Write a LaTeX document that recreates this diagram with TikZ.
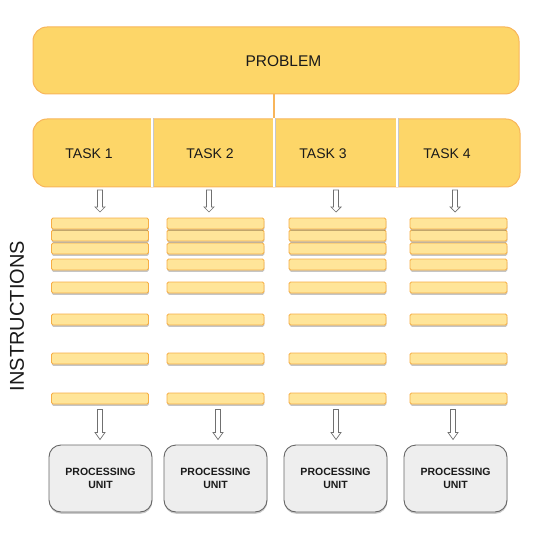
\documentclass[tikz,border=0pt]{standalone}
\usepackage{fontspec}
\setmainfont{Liberation Sans}
\usetikzlibrary{shadows}
\definecolor{ybox}{HTML}{FDD668}
\definecolor{yline}{HTML}{F8B55A}
\definecolor{barfill}{HTML}{FFE599}
\definecolor{barline}{HTML}{F6AE45}
\definecolor{pufill}{HTML}{EEEEEE}
\definecolor{puline}{HTML}{666666}
\definecolor{arrline}{HTML}{707070}
\definecolor{txt}{HTML}{1A1A1A}
\newcommand\blockarrow[3]{%
  \draw[arrowline] (#1) ++(-2.5,0) -- ++(0,#2-#3) -- ++(-2.5,0) -- ++(5,#3)
    -- ++(5,-#3) -- ++(-2.5,0) -- ++(0,-#2+#3) -- cycle;}
\begin{document}
\begin{tikzpicture}[x=1pt,y=-1pt,
  bigbox/.style={draw=yline, line width=1pt, fill=ybox, rounded corners=14pt, inner sep=0pt},
  lbl/.style={text=txt, inner sep=0pt},
  barbox/.style={draw=barline, line width=0.9pt, fill=barfill, rounded corners=1.5pt,
    minimum width=97pt, minimum height=11pt, inner sep=0pt,
    drop shadow={shadow xshift=0.3pt, shadow yshift=-1.8pt, opacity=.32, fill=black!70}},
  pubox/.style={draw=puline, line width=0.9pt, fill=pufill, rounded corners=12pt,
    minimum width=103pt, minimum height=67pt, inner sep=0pt, align=center, text=txt,
    font=\bfseries\fontsize{10.5}{12.5}\selectfont,
    drop shadow={shadow xshift=0.3pt, shadow yshift=-1.8pt, opacity=.3, fill=black!70}},
  arrowline/.style={draw=arrline, fill=white, line width=0.7pt, line join=miter}
]
\useasboundingbox (0,0) rectangle (543,540);

% problem and tasks
\node[bigbox, minimum width=486pt, minimum height=67pt] (problem) at (276,60.5) {};
\node[lbl, font=\fontsize{15.5}{18}\selectfont] (ptext) at (283.4,61) {PROBLEM};
\node[bigbox, minimum width=487pt, minimum height=68pt] (tasks) at (276.5,153) {};

\coordinate (d1) at (152,153);
\coordinate (d2) at (274,153);
\coordinate (d3) at (397,153);
\foreach \d in {d1,d2,d3}{
  \draw[black!22, line width=1pt] ([xshift=1.2pt]tasks.north -| \d) -- ([xshift=1.2pt]tasks.south -| \d);
  \draw[white, line width=1.2pt] (tasks.north -| \d) -- (tasks.south -| \d);
}
\draw[yline, line width=1.2pt] (problem.south -| d2) -- (tasks.north -| d2);

\foreach \i/\x in {1/89,2/210,3/323,4/447}
  \node[lbl, font=\fontsize{14}{17}\selectfont] (t\i) at (\x,153.5) {TASK \i};

% top arrows
\foreach \i/\x in {1/100,2/209,3/336,4/455}{
  \coordinate (ta\i) at (\x,190);
  \blockarrow{ta\i}{22}{5}
}

% instruction bars
\foreach \c/\x in {1/100,2/215.5,3/337.5,4/458.5}{
  \foreach \r/\y in {8/398.5,7/358.5,6/319.5,5/287.5,4/264.5,3/248.5,2/235.5,1/223.5}
    \node[barbox] (b\c-\r) at (\x,\y) {};
}

% bottom arrows
\foreach \i/\x in {1/100,2/218,3/336,4/453}{
  \coordinate (ba\i) at (\x,409.5);
  \blockarrow{ba\i}{30}{7}
}

% processing units
\foreach \i/\x in {1/100.5,2/215.5,3/335.5,4/455.5}
  \node[pubox] (pu\i) at (\x,478.5) {PROCESSING\\UNIT};

\node[lbl, rotate=90, font=\fontsize{20}{24}\selectfont] (instr) at (17,316) {INSTRUCTIONS};
\end{tikzpicture}
\end{document}
